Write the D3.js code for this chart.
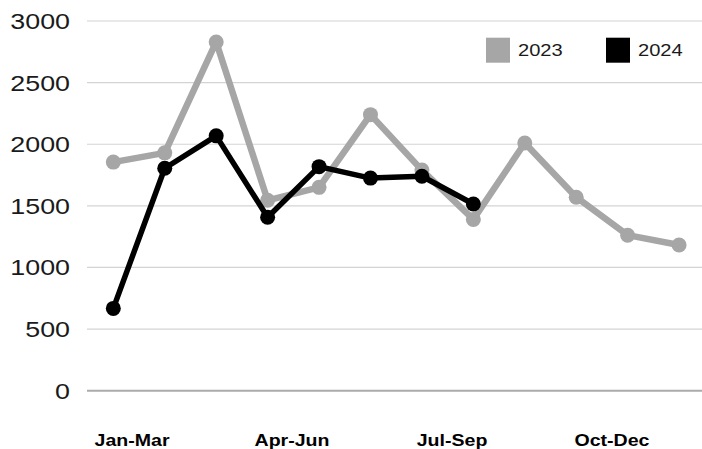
<!DOCTYPE html>
<html>
<head>
<meta charset="utf-8">
<script src="https://cdn.jsdelivr.net/npm/d3@7"></script>
<style>
  html, body { margin: 0; padding: 0; background: #fff; }
  svg { display: block; }
</style>
</head>
<body>
<svg id="chart" width="702" height="449"></svg>
<script>
const months = ["Jan","Feb","Mar","Apr","May","Jun","Jul","Aug","Sep","Oct","Nov","Dec"];
const quarters = ["Jan-Mar","Apr-Jun","Jul-Sep","Oct-Dec"];
const values2023 = [1855, 1930, 2830, 1545, 1650, 2240, 1790, 1390, 2010, 1570, 1262, 1182];
const values2024 = [668, 1805, 2068, 1408, 1818, 1725, 1740, 1515];
const yTicks = [0, 500, 1000, 1500, 2000, 2500, 3000];
const seriesNames = ["2023", "2024"];
const seriesColors = ["#a6a6a6", "#000000"];

const svg = d3.select("#chart");
const W = 702, H = 449;
const plotLeft = 87.6, plotRight = 704.8;

const x = d3.scalePoint().domain(months).range([plotLeft, plotRight]).padding(0.5);
const xq = d3.scaleBand().domain(quarters).range([52, 692]);
const y = d3.scaleLinear().domain([0, 3000]).range([390.7, 21]);

// gridlines
svg.append("g").selectAll("line").data(yTicks.filter(d => d > 0)).join("line")
  .attr("x1", 87).attr("x2", W)
  .attr("y1", d => y(d)).attr("y2", d => y(d))
  .attr("stroke", "#d4d4d4").attr("stroke-width", 1.2);
svg.append("line")
  .attr("x1", 87).attr("x2", W)
  .attr("y1", y(0)).attr("y2", y(0))
  .attr("stroke", "#ababab").attr("stroke-width", 2);

// y labels
svg.append("g").selectAll("g").data(yTicks).join("g")
  .attr("transform", d => `translate(70,${y(d) + 8}) scale(1.22,1)`)
  .append("text")
  .attr("text-anchor", "end")
  .attr("font-family", "Liberation Sans, Arial, sans-serif")
  .attr("font-size", 22)
  .attr("fill", "#1a1a1a")
  .text(d => d);

// x labels
svg.append("g").selectAll("g").data(quarters).join("g")
  .attr("transform", d => `translate(${xq(d) + xq.bandwidth() / 2},446) scale(1.2,1)`)
  .append("text")
  .attr("text-anchor", "middle")
  .attr("font-family", "Liberation Sans, Arial, sans-serif")
  .attr("font-weight", "bold")
  .attr("font-size", 16.3)
  .attr("fill", "#000")
  .text(d => d);

// lines
const line = d3.line().x((d, i) => x(months[i])).y(d => y(d));
const seriesData = [values2023, values2024];
const widths = [6.5, 5.5];
seriesData.forEach((vals, si) => {
  const g = svg.append("g");
  g.append("path")
    .attr("d", line(vals))
    .attr("fill", "none")
    .attr("stroke", seriesColors[si])
    .attr("stroke-width", widths[si])
    .attr("stroke-linejoin", "round");
  g.selectAll("circle").data(vals).join("circle")
    .attr("cx", (d, i) => x(months[i]))
    .attr("cy", d => y(d))
    .attr("r", 7.5)
    .attr("fill", seriesColors[si]);
});

// legend
const legendX = [486, 606];
const lg = svg.append("g");
seriesNames.forEach((name, i) => {
  lg.append("rect")
    .attr("x", legendX[i]).attr("y", 37.7)
    .attr("width", 24).attr("height", 25)
    .attr("fill", seriesColors[i]);
  lg.append("g")
    .attr("transform", `translate(${legendX[i] + 32},55.7) scale(1.17,1)`)
    .append("text")
    .attr("font-family", "Liberation Sans, Arial, sans-serif")
    .attr("font-size", 17.2)
    .attr("fill", "#1a1a1a")
    .text(name);
});
</script>
</body>
</html>
